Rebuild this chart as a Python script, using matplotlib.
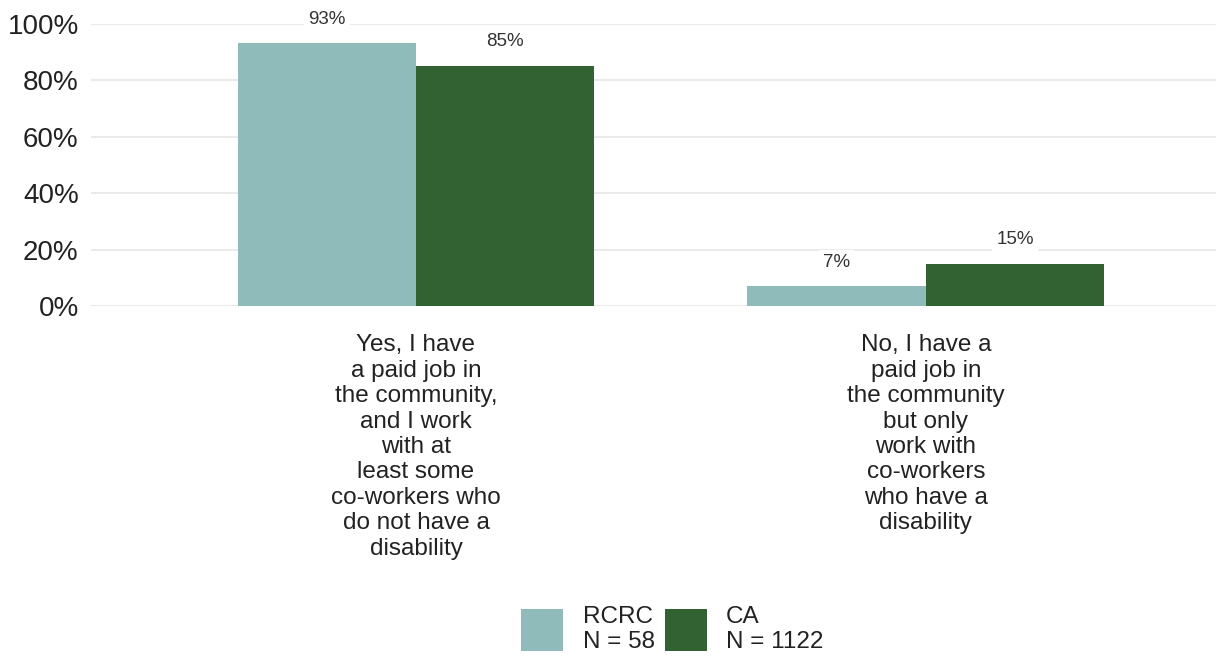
import matplotlib
matplotlib.use("Agg")
import matplotlib.pyplot as plt
import numpy as np
from matplotlib.patches import Patch

plt.rcParams['font.family'] = ['Liberation Sans', 'DejaVu Sans']

categories = ["Yes, I have\na paid job in\nthe community,\nand I work\nwith at\nleast some\nco-workers who\ndo not have a\ndisability",
              "No, I have a\npaid job in\nthe community\nbut only\nwork with\nco-workers\nwho have a\ndisability"]
rcrc = [0.93, 0.07]
ca = [0.85, 0.15]
series_names = ["RCRC\nN = 58", "CA\nN = 1122"]
colors = ["#8fbcbb", "#326232"]

fig = plt.figure(figsize=(12.16, 6.57), dpi=100)
ax = fig.add_axes([0.075, 0.534, 0.925, 0.43])

x = np.arange(len(categories))
w = 0.35
for vals, off, col in [(rcrc, -w / 2, colors[0]), (ca, w / 2, colors[1])]:
    bars = ax.bar(x + off, vals, w, color=col, zorder=2)
    for b, v in zip(bars, vals):
        ax.text(b.get_x() + b.get_width() / 2, v + 0.055, f"{v:.0%}",
                ha='center', va='bottom', fontsize=13.5, color='#333333', zorder=3,
                clip_on=False,
                bbox=dict(facecolor='white', edgecolor='none', pad=3))

ax.set_xlim(-0.637, 1.569)
ax.set_ylim(0, 1)
ax.set_yticks(np.arange(0, 1.01, 0.2))
ax.set_yticklabels([f"{int(round(t * 100))}%" for t in np.arange(0, 1.01, 0.2)],
                   fontsize=20, color='#222222')
ax.set_xticks([])
ax.grid(axis='y', color='#e8e8e8', linewidth=1.3, zorder=0)
for s in ax.spines.values():
    s.set_visible(False)
ax.tick_params(axis='y', length=0, pad=9)

for xi, lab in zip(x, categories):
    ax.text(xi, -0.1, lab, ha='center', va='top', fontsize=17.5, color='#222222',
            linespacing=1.2, clip_on=False)

handles = [Patch(facecolor=c, edgecolor='none') for c in colors]
fig.legend(handles, series_names, loc='lower center', bbox_to_anchor=(0.553, 0.006),
           ncol=2, frameon=False, fontsize=17.5, handlelength=1.73, handleheight=2.28,
           columnspacing=0.4, handletextpad=0.8, labelcolor='#222222',
           borderaxespad=0.0, borderpad=0.0)

fig.savefig("out.png", dpi=100)
